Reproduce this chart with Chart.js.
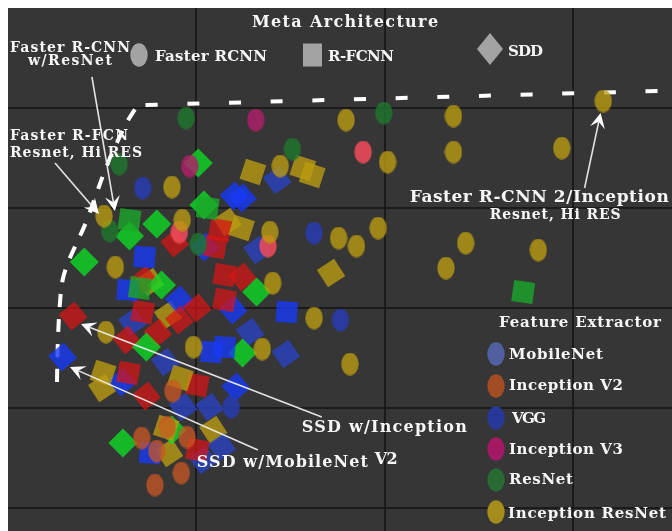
<!DOCTYPE html>
<html>
<head>
<meta charset="utf-8">
<script src="https://cdn.jsdelivr.net/npm/chart.js@4.4.1/dist/chart.umd.min.js"></script>
<style>
  html, body { margin: 0; padding: 0; background: #ffffff; }
  body { padding: 8px 0 0 8px; overflow: hidden; }
  #wrap { width: 664px; height: 523px; }
  canvas { display: block; }
</style>
</head>
<body>
<div id="wrap"><canvas id="chart" width="664" height="523"></canvas></div>
<script>
// ---------------------------------------------------------------
// Detector runs: GPU time (ms) on x, overall mAP on y
// ---------------------------------------------------------------

// Faster R-CNN (drawn as ellipses)
const frcnnIncResMs  = [632, 359, 473, 289, 403, 473, 588, 174, 102, 185, 278, 351, 370, 393, 486, 563, 465, 281, 114, 104, 197, 270, 325, 363];
const frcnnIncResMap = [35.35, 34.4, 34.6, 32.1, 32.3, 32.8, 33.0, 31.05, 29.6, 29.4, 28.8, 28.5, 28.1, 29.0, 28.25, 27.9, 27.0, 26.25, 27.05, 23.8, 23.05, 22.95, 24.5, 22.2];
const frcnnResNetMs  = [189, 399, 302, 118, 108, 202];
const frcnnResNetMap = [34.5, 34.75, 32.95, 32.2, 28.85, 28.2];
const frcnnRoseMs    = [377, 182, 276];
const frcnnRoseMap   = [32.8, 28.8, 28.1];
const frcnnVggMs     = [143, 325, 353, 237];
const frcnnVggMap    = [31.0, 28.75, 24.4, 20.05];
const frcnnIncV3Ms   = [263, 193];
const frcnnIncV3Map  = [34.4, 32.1];
const frcnnIncV2Ms   = [175, 142, 169, 190, 158, 184, 156];
const frcnnIncV2Map  = [20.85, 18.5, 19.05, 18.55, 17.85, 16.75, 16.15];

// R-FCN (drawn as squares)
const rfcnIncResMs   = [260, 313, 323, 248, 101, 183, 168];
const rfcnIncResMap  = [31.8, 32.0, 31.65, 29.0, 21.75, 21.5, 19.0];
const rfcnResNetMs   = [129, 212, 547, 140];
const rfcnResNetMap  = [29.4, 30.0, 25.8, 26.0];
const rfcnMobileMs   = [145, 296, 127, 230, 151, 216];
const rfcnMobileMap  = [27.55, 24.8, 25.9, 23.05, 17.75, 22.8];
const rfcnRedMs      = [128, 143, 230, 230, 201, 225, 220, 201];
const rfcnRedMap     = [21.75, 24.8, 25.4, 26.65, 17.9, 28.9, 28.05, 21.15];

// SSD (drawn as diamonds)
const ssdGreenMs     = [202, 158, 208, 81, 129, 264, 163, 249, 147, 122, 174];
const ssdGreenMap    = [32.25, 29.2, 30.15, 27.3, 28.6, 25.8, 26.15, 22.75, 23.05, 18.25, 18.9];
const ssdRedMs       = [69, 147, 177, 145, 201, 159, 126, 249, 182];
const ssdRedMap      = [24.6, 20.6, 28.25, 26.4, 25.0, 23.75, 23.4, 26.55, 24.4];
const ssdMobileMs    = [58, 240, 249, 182, 239, 242, 121, 209];
const ssdMobileMap   = [22.55, 30.6, 30.5, 25.4, 24.9, 21.05, 21.3, 28.05];
const ssdVggMs       = [286, 265, 132, 257, 295, 186, 214, 207, 227, 167];
const ssdVggMap      = [31.4, 27.9, 24.3, 23.8, 22.7, 20.05, 20.05, 17.4, 18.05, 22.3];
const ssdIncResMs    = [233, 343, 100, 171, 218, 170, 151];
const ssdIncResMap   = [29.3, 26.75, 21.0, 17.75, 18.9, 24.65, 26.3];

// Speed / accuracy frontier
const frontierCurveMs  = [52, 53, 55, 58, 64, 72, 83, 93, 104, 117, 127, 135];
const frontierCurveMap = [21.3, 23.4, 25.15, 26.4, 27.3, 28.15, 29.3, 30.6, 32.0, 33.4, 34.35, 34.95];
const frontierFlatMs   = [146, 705];
const frontierFlatMap  = [35.15, 35.87];

// Axis ranges (no tick labels are shown, only the grid)
const X_MIN = 0, X_MAX = 705, X_STEP = 200;
const Y_MIN = 13.85, Y_MAX = 40, Y_STEP = 5;

// Legend texts
const metaTitle = 'Meta Architecture';
const metaLabels = ['Faster RCNN', 'R-FCNN', 'SDD'];
const featureTitle = 'Feature Extractor';
const featureLabels = ['MobileNet', 'Inception V2', 'VGG', 'Inception V3', 'ResNet', 'Inception ResNet'];

// ---------------------------------------------------------------
const pts = (xs, ys) => xs.map((x, i) => ({ x, y: ys[i] }));

function ellipseSprite(fill, w, h) {
  const c = document.createElement('canvas');
  c.width = w; c.height = h;
  const g = c.getContext('2d');
  g.fillStyle = fill;
  g.beginPath();
  g.ellipse(w / 2, h / 2, w / 2 - 0.3, h / 2 - 0.3, 0, 0, Math.PI * 2);
  g.fill();
  return c;
}

const C = {
  olive:     'rgba(188,156,16,0.78)',
  darkGreen: 'rgba(32,118,46,0.82)',
  rose:      'rgba(242,74,90,0.86)',
  navy:      'rgba(40,60,178,0.85)',
  magenta:   'rgba(178,30,106,0.82)',
  orange:    'rgba(204,86,34,0.74)',
  green:     'rgba(28,168,42,0.8)',
  lime:      'rgba(14,218,36,0.8)',
  red:       'rgba(218,20,20,0.72)',
  blue:      'rgba(24,58,246,0.8)',
  blueDeep:  'rgba(42,66,192,0.8)'
};

const EW = 18, EH = 23;
function ellipseSet(xs, ys, color) {
  return { data: pts(xs, ys), pointStyle: ellipseSprite(color, EW, EH), pointRadius: 10,
           pointBackgroundColor: color, pointBorderWidth: 0, order: 1 };
}
function squareSet(xs, ys, color, rot) {
  return { data: pts(xs, ys), pointStyle: 'rect', pointRadius: 15, pointRotation: rot,
           pointBackgroundColor: color, pointBorderWidth: 0, order: 2 };
}
function diamondSet(xs, ys, color, rot) {
  return { data: pts(xs, ys), pointStyle: 'rectRot', pointRadius: 14.5, pointRotation: rot,
           pointBackgroundColor: color, pointBorderWidth: 0, order: 3 };
}
function frontierSet(xs, ys, dash) {
  return { data: pts(xs, ys), showLine: true, pointRadius: 0, borderColor: '#ffffff',
           borderWidth: 4, borderDash: dash, tension: 0.35, order: 4, fill: false };
}

const datasets = [
  ellipseSet(frcnnIncResMs, frcnnIncResMap, C.olive),
  ellipseSet(frcnnResNetMs, frcnnResNetMap, C.darkGreen),
  ellipseSet(frcnnRoseMs, frcnnRoseMap, C.rose),
  ellipseSet(frcnnVggMs, frcnnVggMap, C.navy),
  ellipseSet(frcnnIncV3Ms, frcnnIncV3Map, C.magenta),
  ellipseSet(frcnnIncV2Ms, frcnnIncV2Map, C.orange),
  squareSet(rfcnIncResMs, rfcnIncResMap, C.olive, 18),
  squareSet(rfcnResNetMs, rfcnResNetMap, C.green, 8),
  squareSet(rfcnMobileMs, rfcnMobileMap, C.blue, 4),
  squareSet(rfcnRedMs, rfcnRedMap, C.red, 10),
  diamondSet(ssdGreenMs, ssdGreenMap, C.lime, 0),
  diamondSet(ssdRedMs, ssdRedMap, C.red, 6),
  diamondSet(ssdMobileMs, ssdMobileMap, C.blue, 4),
  diamondSet(ssdVggMs, ssdVggMap, C.blueDeep, 10),
  diamondSet(ssdIncResMs, ssdIncResMap, C.olive, 12),
  frontierSet(frontierCurveMs, frontierCurveMap, [13, 12]),
  frontierSet(frontierFlatMs, frontierFlatMap, [12, 29.7])
];

// Callouts, anchored in data units
const notes = [
  { text: 'Faster R-CNN',             x: 2.1,   y: 38.05, size: 14, width: 120 },
  { text: 'w/ResNet',                 x: 21.2,  y: 37.4,  size: 14, width: 84 },
  { text: 'Faster R-FCN',             x: 2.1,   y: 33.65, size: 14, width: 118 },
  { text: 'Resnet, Hi RES',           x: 2.1,   y: 32.8,  size: 14, width: 132 },
  { text: 'Faster R-CNN 2/Inception', x: 426.5, y: 30.6,  size: 17, width: 259 },
  { text: 'Resnet, Hi RES',           x: 511.4, y: 29.7,  size: 14, width: 131 },
  { text: 'SSD w/Inception',          x: 311.9, y: 19.1,  size: 16, width: 165 },
  { text: 'V2',                       x: 389.4, y: 17.5,  size: 16, width: 23 },
  { text: 'SSD w/MobileNet',          x: 200.5, y: 17.35, size: 16, width: 171 }
];
const arrows = [
  { from: [89.1, 36.55],  to: [113.5, 29.85] },
  { from: [49.9, 32.25],  to: [96.6, 29.7] },
  { from: [612.2, 31.0],  to: [629.2, 34.75] },
  { from: [333.2, 19.55], to: [77.5, 24.2] },
  { from: [265.3, 17.9],  to: [65.8, 22.05] }
];

const TEXT = '#f6f6f6';
function drawLabel(ctx, str, left, cy, size, width) {
  ctx.save();
  ctx.font = 'bold ' + size + 'px "DejaVu Serif"';
  ctx.fillStyle = TEXT;
  ctx.textAlign = 'left';
  ctx.textBaseline = 'alphabetic';
  const base = cy + size * 0.36;
  if ('letterSpacing' in ctx) {
    ctx.letterSpacing = '0px';
    const w0 = ctx.measureText(str).width;
    const ls = str.length > 1 ? (width - w0) / (str.length - 1) : 0;
    ctx.letterSpacing = ls.toFixed(2) + 'px';
    ctx.fillText(str, left, base);
  } else {
    const w0 = ctx.measureText(str).width;
    ctx.translate(left, base);
    ctx.scale(width / w0, 1);
    ctx.fillText(str, 0, 0);
  }
  ctx.restore();
}

function drawArrow(ctx, x1, y1, x2, y2) {
  const ang = Math.atan2(y2 - y1, x2 - x1);
  const dx = Math.cos(ang), dy = Math.sin(ang);
  const nx = -dy, ny = dx;
  const L = 15, W = 7.5, N = 9;
  ctx.save();
  ctx.strokeStyle = 'rgba(236,236,236,0.95)';
  ctx.lineWidth = 1.6;
  ctx.beginPath();
  ctx.moveTo(x1, y1);
  ctx.lineTo(x2 - dx * N, y2 - dy * N);
  ctx.stroke();
  ctx.fillStyle = '#ffffff';
  ctx.beginPath();
  ctx.moveTo(x2, y2);
  ctx.lineTo(x2 - dx * L + nx * W, y2 - dy * L + ny * W);
  ctx.lineTo(x2 - dx * N, y2 - dy * N);
  ctx.lineTo(x2 - dx * L - nx * W, y2 - dy * L - ny * W);
  ctx.closePath();
  ctx.fill();
  ctx.restore();
}

function legendEllipse(ctx, cx, cy, color) {
  ctx.fillStyle = color;
  ctx.beginPath();
  ctx.ellipse(cx, cy, 8.7, 11.7, 0, 0, Math.PI * 2);
  ctx.fill();
}

const background = {
  id: 'background',
  beforeDraw(chart) {
    const { ctx, width, height } = chart;
    ctx.save();
    ctx.fillStyle = '#363636';
    ctx.fillRect(0, 0, width, height);
    ctx.restore();
  }
};

const overlay = {
  id: 'overlay',
  afterDatasetsDraw(chart) {
    const { ctx, scales: { x, y }, chartArea: a } = chart;
    const px = v => x.getPixelForValue(v);
    const py = v => y.getPixelForValue(v);

    arrows.forEach(r => drawArrow(ctx, px(r.from[0]), py(r.from[1]), px(r.to[0]), py(r.to[1])));
    notes.forEach(n => drawLabel(ctx, n.text, px(n.x), py(n.y), n.size, n.width));

    // Meta architecture key
    const L = a.left, T = a.top;
    ctx.save();
    drawLabel(ctx, metaTitle, L + 244, T + 13, 16, 186);
    const grey = 'rgba(170,170,170,0.95)';
    legendEllipse(ctx, L + 131, T + 47, grey);
    ctx.fillStyle = grey;
    ctx.fillRect(L + 295, T + 35.5, 19, 23);
    ctx.beginPath();
    ctx.moveTo(L + 482, T + 25);
    ctx.lineTo(L + 495, T + 41);
    ctx.lineTo(L + 482, T + 57);
    ctx.lineTo(L + 469, T + 41);
    ctx.closePath();
    ctx.fill();
    drawLabel(ctx, metaLabels[0], L + 147, T + 48, 15, 112);
    drawLabel(ctx, metaLabels[1], L + 320, T + 48, 15, 66);
    drawLabel(ctx, metaLabels[2], L + 500, T + 43, 15, 35);

    // Feature extractor key
    drawLabel(ctx, featureTitle, L + 491, T + 314, 15, 162);
    const fColors = ['rgb(82,96,162)', 'rgb(162,76,36)', 'rgb(40,56,152)',
                     'rgb(162,26,100)', 'rgb(42,106,52)', 'rgb(166,140,26)'];
    const fRows   = [346, 378, 410, 441, 472, 504];
    const fText   = [346, 377, 410, 441, 471, 505];
    const fLeft   = [501, 501, 504, 501, 501, 500];
    const fWidth  = [94, 114, 34, 114, 64, 158];
    featureLabels.forEach((lab, i) => {
      legendEllipse(ctx, L + 488, T + fRows[i], fColors[i]);
      drawLabel(ctx, lab, L + fLeft[i], T + fText[i], 15, fWidth[i]);
    });
    ctx.restore();
  }
};

const onStep = (v, s) => Math.abs(v / s - Math.round(v / s)) < 1e-6;

new Chart(document.getElementById('chart'), {
  type: 'scatter',
  data: { datasets },
  options: {
    responsive: false,
    animation: false,
    events: [],
    layout: { padding: 0, autoPadding: false },
    plugins: { legend: { display: false }, tooltip: { enabled: false } },
    scales: {
      x: {
        type: 'linear', min: X_MIN, max: X_MAX,
        ticks: { display: false, stepSize: X_STEP },
        border: { display: false },
        grid: {
          drawTicks: false, lineWidth: 2,
          color: c => (c.tick && c.tick.value > X_MIN && onStep(c.tick.value, X_STEP)) ? 'rgba(24,24,24,0.9)' : 'rgba(0,0,0,0)'
        },
        afterFit: s => { s.height = 0; }
      },
      y: {
        type: 'linear', min: Y_MIN, max: Y_MAX,
        ticks: { display: false, stepSize: Y_STEP },
        border: { display: false },
        grid: {
          drawTicks: false, lineWidth: 2,
          color: c => (c.tick && c.tick.value < Y_MAX && onStep(c.tick.value, Y_STEP)) ? 'rgba(24,24,24,0.9)' : 'rgba(0,0,0,0)'
        },
        afterFit: s => { s.width = 0; }
      }
    }
  },
  plugins: [background, overlay]
});
</script>
</body>
</html>
